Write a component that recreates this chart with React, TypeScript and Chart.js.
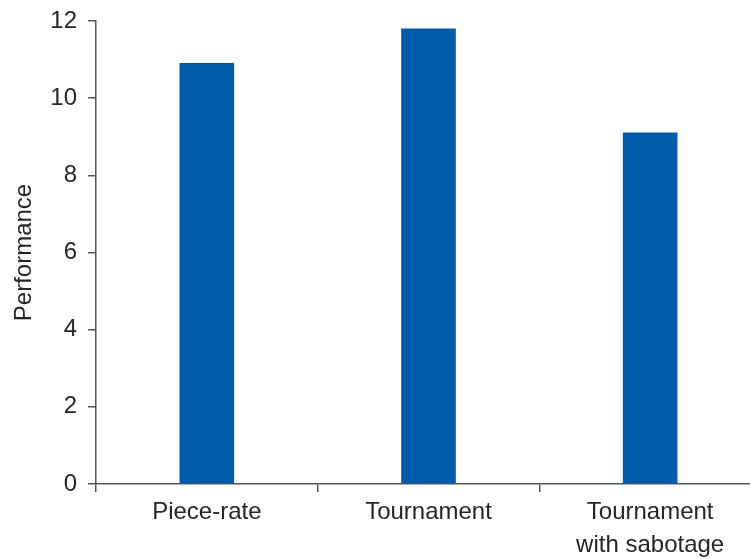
import React, { useEffect, useRef } from "react";
import { Chart, registerables } from "chart.js";

Chart.register(...registerables);

const categories: (string | string[])[] = ["Piece-rate", "Tournament", ["Tournament", "with sabotage"]];
const performance: number[] = [10.9, 11.8, 9.1];
const yTicks: number[] = [0, 2, 4, 6, 8, 10, 12];

const TEXT = "#262626";
const AXIS = "#555555";
const FONT = "'Liberation Sans', Arial, sans-serif";

export default function App() {
  const ref = useRef<HTMLCanvasElement | null>(null);

  useEffect(() => {
    if (!ref.current) return;
    const chart = new Chart(ref.current, {
      type: "bar",
      data: {
        labels: categories,
        datasets: [
          {
            data: performance,
            backgroundColor: "#005CAB",
            borderWidth: 0,
            barThickness: 54,
          },
        ],
      },
      options: {
        responsive: false,
        animation: false,
        devicePixelRatio: 1,
        layout: { padding: { top: 21, left: 0, right: 0, bottom: 0 } },
        plugins: { legend: { display: false }, tooltip: { enabled: false } },
        scales: {
          x: {
            offset: true,
            grid: { display: true, drawOnChartArea: false, drawTicks: true, tickLength: 8, offset: true, color: AXIS, lineWidth: 1.5 },
            border: { display: true, color: AXIS, width: 1.5 },
            ticks: {
              color: TEXT,
              padding: 4,
              maxRotation: 0,
              autoSkip: false,
              font: { family: FONT, size: 24, lineHeight: 1.38 },
            },
            afterFit: (s: any) => {
              s.height = 75;
              s.paddingLeft = 0;
              s.paddingRight = 0;
            },
          },
          y: {
            min: 0,
            max: 12,
            afterBuildTicks: (s: any) => {
              s.ticks = yTicks.map((v) => ({ value: v }));
            },
            grid: { display: true, drawOnChartArea: false, drawTicks: true, tickLength: 8, color: AXIS, lineWidth: 1.5 },
            border: { display: true, color: AXIS, width: 1.5 },
            ticks: {
              color: TEXT,
              padding: 11,
              font: { family: FONT, size: 24 },
            },
            title: {
              display: true,
              text: "Performance",
              color: TEXT,
              padding: { top: 10, bottom: 8 },
              font: { family: FONT, size: 24, lineHeight: 1.2 },
            },
            afterFit: (s: any) => {
              s.width = 96;
              s.paddingTop = 0;
              s.paddingBottom = 0;
            },
          },
        },
      },
    });
    return () => chart.destroy();
  }, []);

  return (
    <div style={{ position: "fixed", left: 0, top: 0, width: 750, height: 559, overflow: "hidden", background: "#fff" }}>
      <canvas ref={ref} width={761} height={559} style={{ display: "block", width: 761, height: 559 }} />
    </div>
  );
}
